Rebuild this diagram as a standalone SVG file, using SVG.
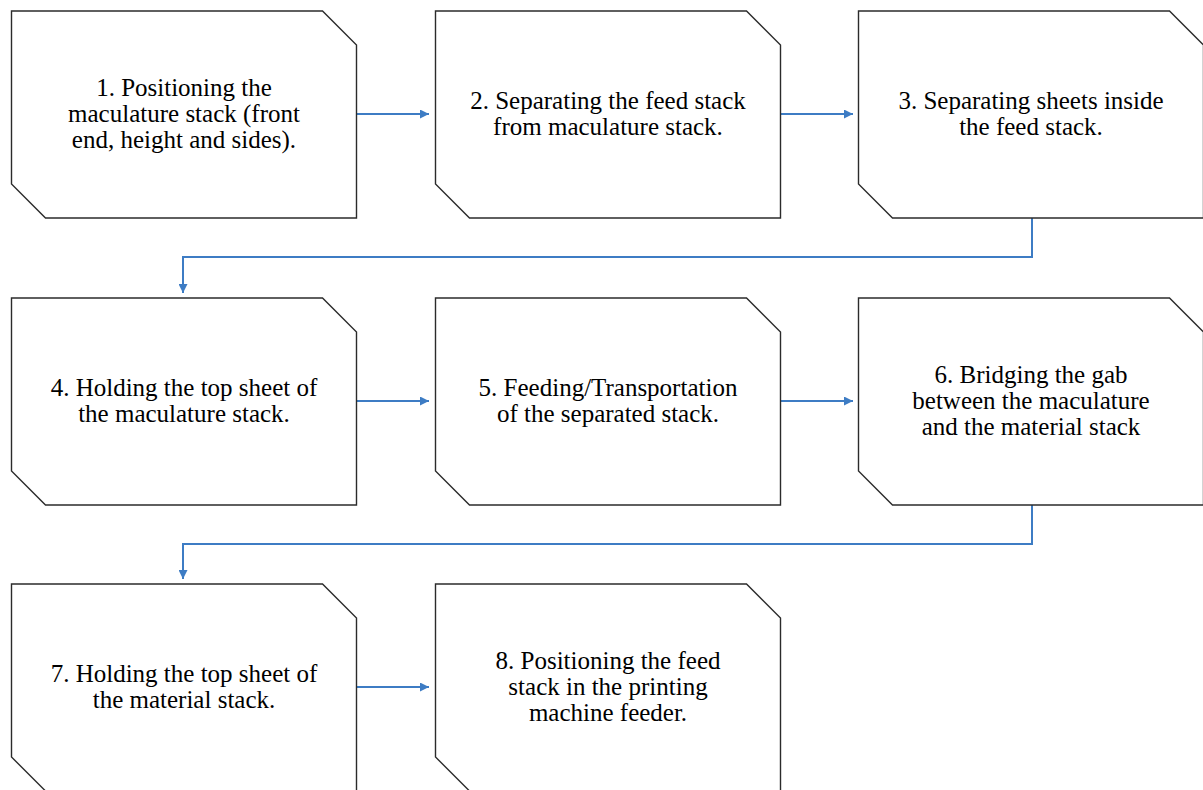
<svg xmlns="http://www.w3.org/2000/svg" width="1203" height="790" viewBox="0 0 1203 790">
<style>
.box{fill:#fff;stroke:#2b2b2b;stroke-width:1.4}
.t{font-family:"Liberation Serif","Times New Roman",serif;font-size:25px;fill:#000;text-anchor:middle}
.c{fill:none;stroke:#3d7cc4;stroke-width:2}
</style>
<defs>
<marker id="ah" viewBox="0 0 10 10" refX="10" refY="5" markerWidth="5" markerHeight="4.5" markerUnits="strokeWidth" orient="auto">
<path d="M0,0 L10,5 L0,10 Z" fill="#3d7cc4"/>
</marker>
<path id="shape" d="M0,0 H311 L345,34 V207 H34 L0,173 Z"/>
</defs>
<rect width="1203" height="790" fill="#fff"/>
<g id="connectors">
<line class="c" x1="357" y1="114" x2="429" y2="114" marker-end="url(#ah)"/>
<line class="c" x1="781" y1="114" x2="853" y2="114" marker-end="url(#ah)"/>
<polyline class="c" points="1032,218 1032,257 183,257 183,293" marker-end="url(#ah)"/>
<line class="c" x1="357" y1="401" x2="429" y2="401" marker-end="url(#ah)"/>
<line class="c" x1="781" y1="401" x2="853" y2="401" marker-end="url(#ah)"/>
<polyline class="c" points="1032,505 1032,544 183,544 183,579" marker-end="url(#ah)"/>
<line class="c" x1="357" y1="687" x2="429" y2="687" marker-end="url(#ah)"/>
</g>
<g id="n1"><use href="#shape" class="box" x="11.5" y="11"/>
<text class="t" x="184" y="96">1. Positioning the</text>
<text class="t" x="184" y="122">maculature stack (front</text>
<text class="t" x="184" y="148">end, height and sides).</text></g>
<g id="n2"><use href="#shape" class="box" x="435.5" y="11"/>
<text class="t" x="608" y="109">2. Separating the feed stack</text>
<text class="t" x="608" y="135">from maculature stack.</text></g>
<g id="n3"><use href="#shape" class="box" x="858.5" y="11"/>
<text class="t" x="1031" y="109">3. Separating sheets inside</text>
<text class="t" x="1031" y="135">the feed stack.</text></g>
<g id="n4"><use href="#shape" class="box" x="11.5" y="298"/>
<text class="t" x="184" y="396">4. Holding the top sheet of</text>
<text class="t" x="184" y="422">the maculature stack.</text></g>
<g id="n5"><use href="#shape" class="box" x="435.5" y="298"/>
<text class="t" x="608" y="396">5. Feeding/Transportation</text>
<text class="t" x="608" y="422">of the separated stack.</text></g>
<g id="n6"><use href="#shape" class="box" x="858.5" y="298"/>
<text class="t" x="1031" y="383">6. Bridging the gab</text>
<text class="t" x="1031" y="409">between the maculature</text>
<text class="t" x="1031" y="435">and the material stack</text></g>
<g id="n7"><use href="#shape" class="box" x="11.5" y="584"/>
<text class="t" x="184" y="682">7. Holding the top sheet of</text>
<text class="t" x="184" y="708">the material stack.</text></g>
<g id="n8"><use href="#shape" class="box" x="435.5" y="584"/>
<text class="t" x="608" y="669">8. Positioning the feed</text>
<text class="t" x="608" y="695">stack in the printing</text>
<text class="t" x="608" y="721">machine feeder.</text></g>
</svg>
